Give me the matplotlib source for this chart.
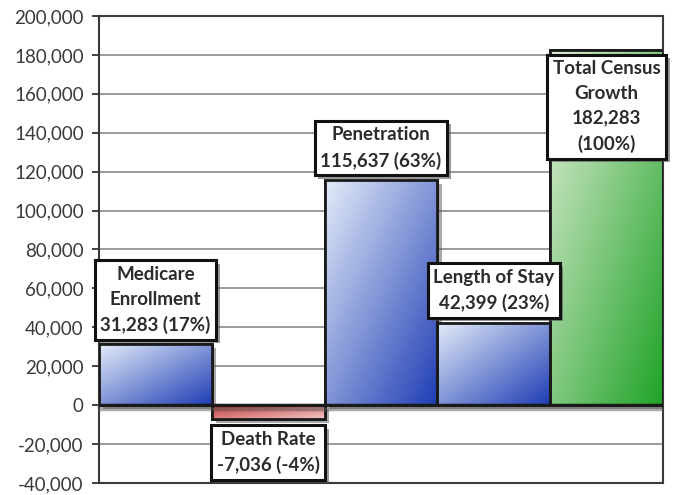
import numpy as np
import matplotlib
matplotlib.use("Agg")
import matplotlib.pyplot as plt
import matplotlib.patheffects as pe
from matplotlib.ticker import FuncFormatter, MultipleLocator

# census growth components
names = ['Medicare\nEnrollment', 'Death Rate', 'Penetration', 'Length of Stay', 'Total Census\nGrowth']
values = [31283, -7036, 115637, 42399, 182283]
shares = [17, -4, 63, 23, 100]
value_sep = [' ', ' ', ' ', ' ', '\n']

# gradient end colours (light corner, dark corner)
light = ['#e4edf9', '#f2c8c8', '#e4edf9', '#e4edf9', '#e2eed8']
dark = ['#1f3db5', '#c23a3a', '#1f3db5', '#1f3db5', '#1fa327']

plt.rcParams['font.family'] = ['Lato', 'DejaVu Sans']

fig = plt.figure(figsize=(6.75, 4.95), dpi=100)
ax = fig.add_axes([99 / 675, 12 / 495, 564 / 675, 467 / 495])

ax.set_xlim(-0.5, 4.5)
ax.set_ylim(-40000, 200000)
ax.yaxis.set_major_locator(MultipleLocator(20000))
ax.yaxis.set_major_formatter(FuncFormatter(lambda v, p: '{:,}'.format(int(v))))
ax.set_xticks([])
ax.tick_params(axis='y', direction='out', length=5, width=1.3, color='#333333',
               labelsize=13.5, labelcolor='#3a3a3a', pad=6)
ax.grid(axis='y', color='#9a9a9a', linewidth=1.4, zorder=0)
ax.set_axisbelow(True)
for s in ax.spines.values():
    s.set_color('#3a3a3a')
    s.set_linewidth(1.5)

shadow = [pe.SimplePatchShadow(offset=(3, -3), shadow_rgbFace='#555555', alpha=0.5), pe.Normal()]

x = np.arange(len(values))
bars = ax.bar(x, values, width=1.0, color='white', edgecolor='#1a1a1a', linewidth=2, zorder=2)

for i, b in enumerate(bars):
    b.set_path_effects(shadow)
    x0, x1 = b.get_x(), b.get_x() + b.get_width()
    y0, y1 = sorted([0, values[i]])
    # diagonal gradient, light top-left to dark bottom-right
    u = np.linspace(0, 1, 200)[None, :]
    w = np.linspace(0, 1, 200)[:, None]
    if values[i] < 0:
        t = 1 - 0.5 * (u + w)
    else:
        t = 0.5 * (u + w)
    c0 = np.array(matplotlib.colors.to_rgb(light[i]))
    c1 = np.array(matplotlib.colors.to_rgb(dark[i]))
    img = c0 + (c1 - c0) * t[..., None]
    ax.imshow(img, extent=(x0, x1, y0, y1), origin='upper', aspect='auto',
              interpolation='bilinear', zorder=2.5)
    ax.add_patch(plt.Rectangle((x0, y0), x1 - x0, y1 - y0, fill=False,
                               edgecolor='#1a1a1a', linewidth=2, zorder=3))

# zero axis line
ax.axhline(0, color='#1a1a1a', linewidth=2.5, zorder=3.5,
           path_effects=[pe.SimpleLineShadow(offset=(0, -3), shadow_color='#555555', alpha=0.5), pe.Normal()])

# value labels
for i, v in enumerate(values):
    text = '{}\n{:,}{}({}%)'.format(names[i], v, value_sep[i], shares[i])
    if v < 0:
        xy, off, va = (i, v), (0, -8.5), 'top'
    elif i == len(values) - 1:
        xy, off, va = (i, v), (0, -7), 'top'
    else:
        xy, off, va = (i, v), (0, 7.5), 'bottom'
    t = ax.annotate(text, xy=xy, xytext=off, textcoords='offset points',
                    ha='center', va=va, fontsize=13.5, fontweight='bold', color='#2b2b2b',
                    linespacing=1.55, zorder=5, annotation_clip=False,
                    bbox=dict(boxstyle='square,pad=0.3', fc='white', ec='#111111', lw=2.2))
    t.get_bbox_patch().set_path_effects(
        [pe.SimplePatchShadow(offset=(2.5, -2.5), shadow_rgbFace='#555555', alpha=0.6), pe.Normal()])

fig.savefig('out.png', dpi=100)
